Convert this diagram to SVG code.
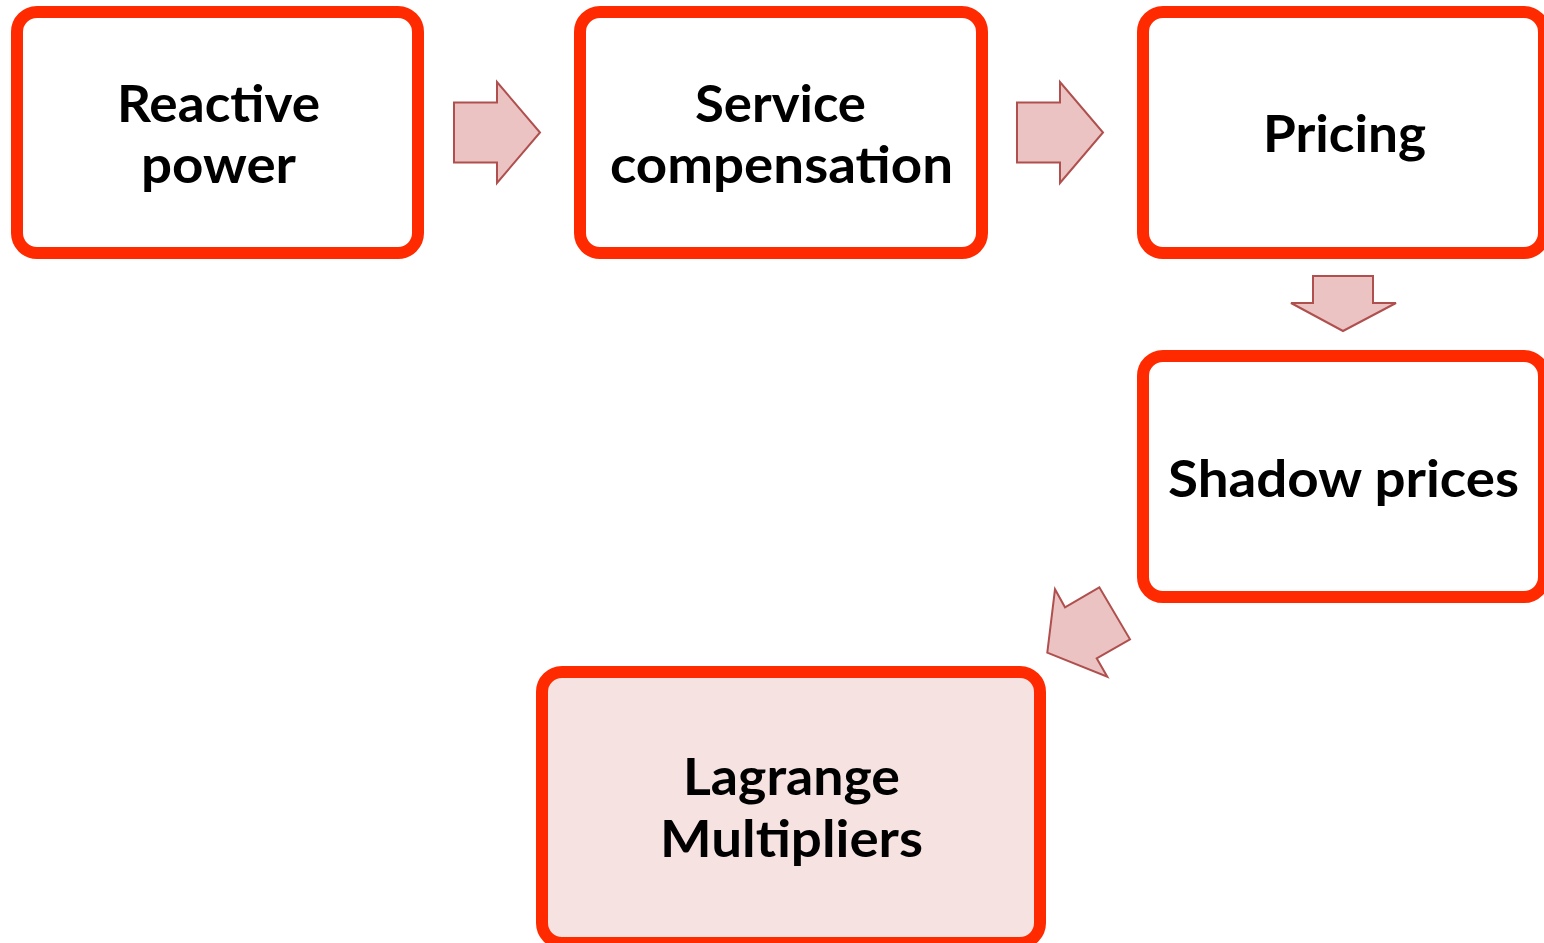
<svg xmlns="http://www.w3.org/2000/svg" width="1544" height="943" viewBox="0 0 1544 943">
  <style>
    .box { fill: #FFFFFF; stroke: #FF2A00; stroke-width: 12; }
    .box.last { fill: #F5E2E1; }
    .label { font-family: Lato, "Open Sans", "Liberation Sans", sans-serif; font-weight: bold; font-size: 51px; fill: #000000; text-anchor: middle; }
    .arrow { fill: #EBC3C3; stroke: #B0504E; stroke-width: 2; stroke-linejoin: miter; }
  </style>
  <rect width="1544" height="943" fill="#FFFFFF"/>

  <g id="node-reactive-power">
    <rect class="box" x="17" y="12" width="401" height="241" rx="20" ry="20"/>
    <text class="label" x="218.5" y="122" textLength="203" lengthAdjust="spacingAndGlyphs">Reactive</text>
    <text class="label" x="218.5" y="183" textLength="155" lengthAdjust="spacingAndGlyphs">power</text>
  </g>

  <g id="node-service-compensation">
    <rect class="box" x="580" y="12" width="402" height="241" rx="20" ry="20"/>
    <text class="label" x="780.5" y="122" textLength="171" lengthAdjust="spacingAndGlyphs">Service</text>
    <text class="label" x="781.5" y="183" textLength="343" lengthAdjust="spacingAndGlyphs">compensation</text>
  </g>

  <g id="node-pricing">
    <rect class="box" x="1143" y="12" width="401" height="241" rx="20" ry="20"/>
    <text class="label" x="1344.5" y="152" textLength="163" lengthAdjust="spacingAndGlyphs">Pricing</text>
  </g>

  <g id="node-shadow-prices">
    <rect class="box" x="1143" y="356" width="401" height="241" rx="20" ry="20"/>
    <text class="label" x="1343.5" y="497" textLength="351" lengthAdjust="spacingAndGlyphs">Shadow prices</text>
  </g>

  <g id="node-lagrange-multipliers">
    <rect class="box last" x="542" y="672" width="498" height="271" rx="20" ry="20"/>
    <text class="label" x="791.5" y="795" textLength="217" lengthAdjust="spacingAndGlyphs">Lagrange</text>
    <text class="label" x="791.5" y="857" textLength="263" lengthAdjust="spacingAndGlyphs">Multipliers</text>
  </g>

  <g id="connectors">
    <!-- block arrows between steps -->
    <polygon class="arrow" points="454,102.5 497,102.5 497,82 540,132.5 497,183 497,162.5 454,162.5"/>
    <polygon class="arrow" points="1017,102.5 1060,102.5 1060,82 1103,132.5 1060,183 1060,162.5 1017,162.5"/>
    <polygon class="arrow" points="1313,276 1373,276 1373,303 1396,303 1343,331 1291,303 1313,303"/>
    <polygon class="arrow" points="1099.3,587.3 1130,639.3 1096.7,658.3 1107.3,676.7 1047.3,652.7 1055,589.3 1065,607.3"/>
  </g>
</svg>
